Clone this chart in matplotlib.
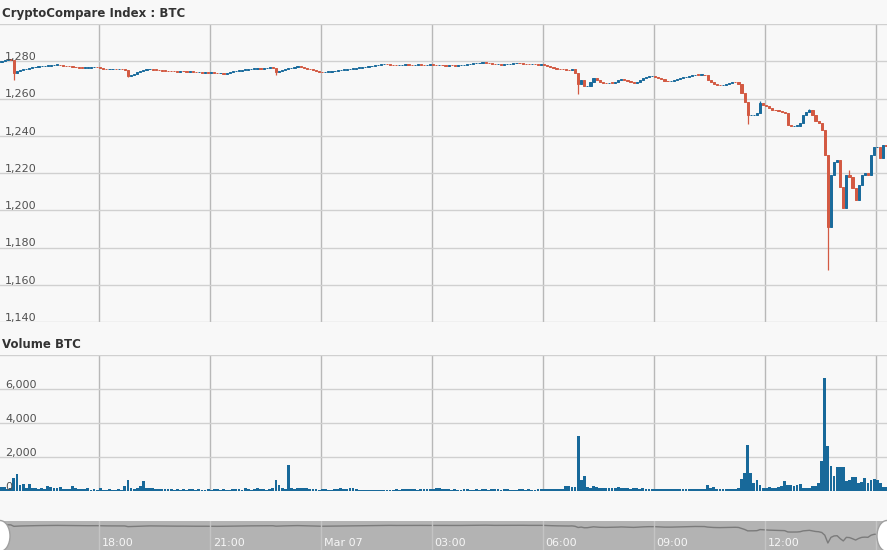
import matplotlib.dates as mdates
import matplotlib.patches as mpatches
import matplotlib.pyplot as plt
import numpy as np
import pandas as pd

# ---- data (5 minute candles, Mar 06 15:20 -> Mar 07 15:15) ----
start = "2017-03-06 15:20"
first_open = 1279.6
closes = [
    1280.0, 1280.6, 1281.0, 1280.8, 1273.5,
    1274.5, 1275.2, 1275.6, 1276.0, 1276.4, 1276.8, 1277.0, 1277.2,
    1277.4, 1277.6, 1277.6, 1277.9, 1278.0, 1278.1, 1277.9,
    1277.6, 1277.4, 1277.2, 1277.0, 1276.8, 1276.6, 1276.4, 1276.5, 1276.6, 1276.8, 1276.9, 1276.8,
    1276.4, 1276.0, 1275.8, 1275.8, 1275.9, 1275.7, 1275.8, 1275.6,
    1275.4, 1272.0,
    1272.6, 1273.4, 1274.2, 1274.8, 1275.3, 1275.6,
    1275.7, 1275.5, 1275.3, 1275.1, 1274.9, 1274.8, 1274.7, 1274.6,
    1274.5, 1274.4, 1274.6, 1274.5, 1274.3, 1274.4, 1274.2, 1274.0, 1274.1, 1273.9, 1274.0, 1273.8,
    1273.9, 1273.7, 1273.5, 1273.6, 1273.4,
    1273.8, 1274.2, 1274.5, 1274.8, 1275.0, 1275.3, 1275.5, 1275.7, 1275.9, 1276.0, 1276.2,
    1276.1, 1276.3, 1276.4, 1276.6, 1276.5,
    1274.3,
    1275.0, 1275.4, 1275.9, 1276.3, 1276.5,
    1276.9, 1277.2, 1276.8,
    1276.4, 1276.0, 1275.6, 1275.1, 1274.7, 1274.3, 1274.0,
    1274.2, 1274.4, 1274.6, 1274.9, 1275.1, 1275.3, 1275.5, 1275.7, 1275.9, 1276.1,
    1276.4, 1276.6, 1276.8, 1277.0, 1277.3, 1277.5, 1277.8, 1278.0, 1278.3,
    1278.5, 1278.4, 1278.2, 1277.9, 1277.8, 1277.9, 1278.0, 1278.1, 1278.0, 1277.9,
    1278.1, 1278.2, 1278.1, 1277.9, 1278.0, 1278.1, 1278.0,
    1277.9, 1278.0, 1277.8, 1277.7, 1277.9, 1277.8, 1277.6, 1277.8, 1277.9, 1278.1, 1278.4, 1278.6,
    1278.8, 1279.0, 1279.1, 1279.3, 1279.2,
    1278.8, 1278.5, 1278.3, 1278.4, 1278.2, 1278.3, 1278.4, 1278.6,
    1278.9, 1279.1, 1279.0, 1278.7,
    1278.4, 1278.3, 1278.4, 1278.3, 1278.2, 1278.3, 1278.1,
    1277.3, 1276.9, 1276.3, 1276.0, 1275.7, 1275.6, 1275.3, 1275.1, 1275.6, 1273.8,
    1267.8, 1269.8, 1266.5, 1266.8, 1268.9, 1271.2, 1269.8, 1268.8, 1268.3, 1268.2, 1268.5, 1268.3, 1268.6,
    1269.7, 1270.6, 1270.2, 1269.4, 1268.8, 1268.2, 1268.9, 1269.8, 1270.8, 1271.6, 1271.9, 1272.0, 1271.8,
    1271.0, 1270.3, 1269.6, 1269.3, 1269.5, 1270.0, 1270.5, 1271.0, 1271.3, 1271.6, 1272.0, 1272.4,
    1272.8, 1272.6, 1272.8, 1272.4,
    1269.8, 1268.6, 1267.8, 1267.4, 1267.2, 1267.5, 1268.0, 1268.5, 1268.9, 1268.8,
    1268.0, 1262.8, 1258.0, 1251.0, 1251.0, 1251.4, 1252.0, 1257.4,
    1256.4, 1255.8, 1254.7, 1254.0, 1253.7, 1253.4, 1252.6, 1252.1,
    1245.6, 1245.1, 1245.3, 1245.4, 1246.8, 1251.0, 1252.6, 1253.7,
    1251.0, 1248.0, 1246.7, 1243.0, 1229.5, 1190.9,
    1218.8, 1225.8, 1226.9, 1212.4, 1201.1, 1218.8, 1217.7, 1212.0, 1205.4,
    1213.5, 1218.8, 1219.9, 1219.0, 1229.5, 1233.8, 1234.2, 1227.9, 1234.9, 1234.4,
]
wick_lows = {4: 1269.8, 41: 1271.3, 89: 1272.4, 187: 1262.6, 242: 1246.5, 268: 1167.9}
wick_highs = {246: 1258.6, 262: 1254.5, 275: 1221.5}

volumes = [
    250, 250, 120, 150, 780, 1000, 350, 400, 200, 400, 150,
    150, 140, 150, 130, 290, 250, 180, 200, 230, 120, 100, 110,
    300, 200, 130, 100, 90, 200, 80, 90, 80,
    170, 80, 70, 90, 80, 70, 90, 80,
    310, 650, 180, 120, 150, 300, 600, 200,
    180, 150, 120, 130, 100, 110, 90, 100, 80, 90, 70, 100, 80,
    90, 100, 80, 120, 80, 70, 90, 80, 100, 90,
    80, 90, 70, 80, 100, 90, 120, 80, 150, 100,
    80, 110, 150, 100, 90, 80, 100,
    150, 650, 350, 200, 100, 1550, 200, 100, 180, 200, 200, 150,
    120, 100, 90, 80, 100, 90, 80, 70, 90, 100,
    180, 120, 100, 180, 150, 100, 80, 70, 60, 80,
    70, 80, 60, 70, 80, 60, 70, 80, 90, 60,
    100, 120, 100, 90, 110, 80, 90, 100, 120, 100,
    130, 180, 150, 130, 100, 90,
    80, 90, 70, 80, 100, 90, 80, 70, 90, 80,
    100, 90, 80, 120, 100, 90, 80, 100, 90, 80,
    70, 80, 90, 100, 80, 90, 70, 80, 100, 90,
    100, 110, 100, 120, 90, 100, 110,
    290, 280, 250, 260, 3250, 650, 880, 250, 200, 300, 220,
    200, 180, 160, 170, 160, 150,
    230, 200, 150, 160, 140, 150, 170, 140, 150, 130, 120,
    100, 110, 90, 100, 120, 100, 90, 110, 130,
    130, 120, 140, 130, 110, 100, 100, 90, 120,
    330, 150, 220, 130, 110, 120, 100, 130, 110, 120, 200,
    690, 1080, 2700, 1080, 450, 650, 350,
    200, 150, 220, 180, 200, 250, 300,
    600, 330, 330, 300, 340, 400, 200, 150, 160, 300, 300, 450,
    1780, 6650, 2650, 1470, 880, 1430, 1430, 1430, 600, 650, 800, 800,
    450, 550, 750, 500, 650, 700, 650, 450, 250, 250,
]

tick_times = ["2017-03-06 18:00", "2017-03-06 21:00", "2017-03-07 00:00", "2017-03-07 03:00",
              "2017-03-07 06:00", "2017-03-07 09:00", "2017-03-07 12:00", "2017-03-07 15:00"]
nav_labels = ["18:00", "21:00", "Mar 07", "03:00", "06:00", "09:00", "12:00", ""]
price_ticks = [1140, 1160, 1180, 1200, 1220, 1240, 1260, 1280, 1300]
vol_ticks = [0, 2000, 4000, 6000, 8000]

# ---- style ----
UP = "#1a6b9c"
DOWN = "#d35a43"
VOL = "#18699a"
BG = "#f8f8f8"
GRID_H = "#d0d0d0"
GRID_V = "#b8b8b8"
TXT = "#505050"
W, H = 887, 550
px = 1 / 100
slot = 5 / 1440

times = pd.date_range(start, periods=len(closes), freq="5min")
t0 = mdates.date2num(times[0])
x = mdates.date2num(times) + slot / 2
ticks = mdates.date2num(pd.to_datetime(tick_times))
xlim = (t0, t0 + W / 37 / 24)

opens = np.array([first_open] + closes[:-1])
cl = np.array(closes)
lows = np.minimum(opens, cl)
highs = np.maximum(opens, cl)
for i, v in wick_lows.items():
    lows[i] = v
for i, v in wick_highs.items():
    highs[i] = v
colors = [UP if c >= o else DOWN for o, c in zip(opens, cl)]

fig = plt.figure(figsize=(W * px, H * px), dpi=100, facecolor=BG)


def panel(top, bottom):
    ax = fig.add_axes([0, 1 - bottom / H, 1, (bottom - top) / H])
    ax.set_facecolor(BG)
    for s in ax.spines.values():
        s.set_visible(False)
    ax.tick_params(length=0, labelleft=False, labelbottom=False)
    ax.set_xlim(*xlim)
    return ax


def ylabels(ax, values, fmt):
    for v in values:
        ax.annotate(fmt(v), xy=(0, v), xycoords=ax.get_yaxis_transform(),
                    xytext=(5 * 0.72, 1.2 * 0.72), textcoords="offset points",
                    ha="left", va="baseline", fontsize=8, color=TXT)


# price panel
ax_p = panel(24, 322)
ax_p.set_ylim(1140, 1300)
ax_p.set_yticks(price_ticks)
ax_p.set_xticks(ticks)
ax_p.yaxis.grid(True, color=GRID_H, lw=1)
ax_p.xaxis.grid(True, color=GRID_V, lw=1)
ax_p.set_axisbelow(True)
ax_p.vlines(x, lows, highs, colors=colors, lw=0.9)
body = np.maximum(np.abs(cl - opens), 0.3)
ax_p.bar(x, body, bottom=np.minimum(opens, cl), width=slot * 0.72,
         color=colors, edgecolor=colors, linewidth=0.7)
ylabels(ax_p, price_ticks[:-1], lambda v: f"{v:,}")

# volume panel
ax_v = panel(355, 491)
ax_v.set_ylim(0, 8000)
ax_v.set_yticks(vol_ticks)
ax_v.set_xticks(ticks)
ax_v.yaxis.grid(True, color=GRID_H, lw=1)
ax_v.xaxis.grid(True, color=GRID_V, lw=1)
ax_v.set_axisbelow(True)
ax_v.bar(x, volumes, width=slot * 0.9, color=VOL, linewidth=0)
ylabels(ax_v, vol_ticks[:-1], lambda v: f"{v:,}")

# navigator
ax_n = panel(521, 550)
ax_n.set_facecolor("#b3b3b3")
ax_n.set_ylim(1156, 1300)
ax_n.plot(x, closes, color="#7b7b7b", lw=1)
for t, lab in zip(ticks, nav_labels):
    ax_n.axvline(t, color="#c4c4c4", lw=1)
    ax_n.annotate(lab, xy=(t, 0.24), xycoords=ax_n.get_xaxis_transform(),
                  xytext=(3 * 0.72, 0), textcoords="offset points",
                  ha="left", va="center", fontsize=8, color="#f6f6f6")

# navigator handles
ov = fig.add_axes([0, 0, 1, 1], facecolor="none")
ov.set_xlim(0, W)
ov.set_ylim(H, 0)
ov.axis("off")
for cx in (0, W):
    ov.add_patch(mpatches.Ellipse((cx, 536), 20, 31, facecolor="white", edgecolor="#a0a0a0", lw=1))

fig.text(2 / W, 1 - 13 / H, "CryptoCompare Index : BTC", fontsize=8.5, fontweight="bold",
         color="#333333", va="center", ha="left")
fig.text(2 / W, 1 - 344 / H, "Volume BTC", fontsize=8.5, fontweight="bold",
         color="#333333", va="center", ha="left")

fig.savefig("out.png", dpi=100, facecolor=BG)
